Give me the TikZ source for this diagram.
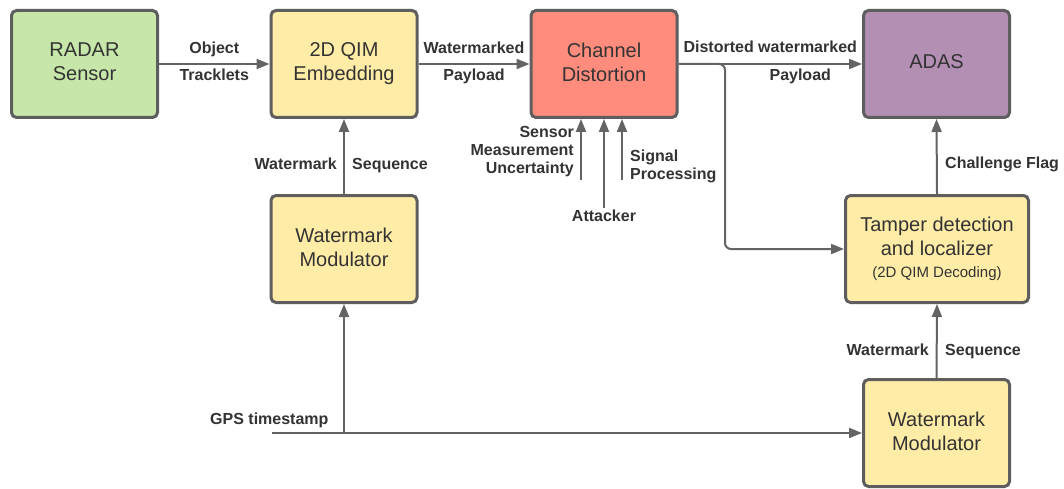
\documentclass[tikz,border=0pt]{standalone}
\usepackage{fontspec}
\setmainfont{Liberation Sans}
\usetikzlibrary{arrows.meta,calc}
\definecolor{boxline}{RGB}{94,94,94}
\definecolor{wire}{RGB}{100,100,100}
\definecolor{ink}{RGB}{51,51,51}
\definecolor{radarfill}{RGB}{199,231,170}
\definecolor{qimfill}{RGB}{255,236,166}
\definecolor{chanfill}{RGB}{255,140,125}
\definecolor{adasfill}{RGB}{178,143,179}

\begin{document}
\begin{tikzpicture}[x=1pt,y=-1pt,
  block/.style={draw=boxline, line width=3pt, rounded corners=5pt,
    minimum width=146pt, minimum height=107pt, align=center, text=ink,
    font=\fontsize{20}{24}\selectfont, inner sep=0pt,
    execute at end node={\vphantom{g}}},
  wirearrow/.style={draw=wire, line width=2pt, -{Triangle[length=13pt,width=10pt]}},
  wireline/.style={draw=wire, line width=2pt},
  lbl/.style={text=ink, font=\fontsize{16}{18}\selectfont\bfseries, inner sep=0pt},
]
\useasboundingbox[fill=white] (0,0) rectangle (1064,489);

% processing blocks
\node[block, fill=radarfill] (radar) at (84.5,64) {RADAR\\Sensor};
\node[block, fill=qimfill] (qim) at (344,64) {2D QIM\\Embedding};
\node[block, fill=chanfill] (chan) at (604,64) {Channel\\Distortion};
\node[block, fill=adasfill] (adas) at (936.5,64) {ADAS};
\node[block, fill=qimfill] (modL) at (344,249) {Watermark\\Modulator};
\node[block, fill=qimfill, minimum width=183pt] (tamper) at (937,249)
  {Tamper detection\\and localizer\\[-2pt]{\fontsize{15}{18}\selectfont (2D QIM Decoding)}};
\node[block, fill=qimfill] (modR) at (936.5,433) {Watermark\\Modulator};

% main data path
\draw[wirearrow] (radar.east) -- (qim.west)
  node[lbl, midway, anchor=base, yshift=10pt] (lobj) {Object}
  node[lbl, midway, anchor=base, yshift=-17pt] (ltrk) {Tracklets};
\draw[wirearrow] (qim.east) -- (chan.west)
  node[lbl, midway, anchor=base, yshift=10pt] (lwm) {Watermarked}
  node[lbl, midway, anchor=base, yshift=-17pt] (lpay) {Payload};
\draw[wirearrow] (chan.east) -- (adas.west)
  node[lbl, midway, anchor=base, yshift=11pt] (ldist) {Distorted watermarked}
  node[lbl, midway, anchor=base, yshift=-17pt, xshift=30pt] (lpay2) {Payload};

% tap to the tamper detector
\coordinate (bend) at (725,249);
\draw[wirearrow, rounded corners=6pt] (chan.east) -| (bend) -- (tamper.west);

% disturbances entering the channel
\coordinate (sIn) at (581,180);
\coordinate (aIn) at (604,208);
\coordinate (pIn) at (622,180);
\draw[wirearrow] (sIn) -- (sIn |- chan.south);
\draw[wirearrow] (aIn) -- (aIn |- chan.south);
\draw[wirearrow] (pIn) -- (pIn |- chan.south);
\node[lbl, align=right, anchor=east] (lsens) at (574,151.5) {Sensor\\Measurement\\Uncertainty};
\node[lbl, align=left, anchor=west] (lsig) at (630,166) {Signal\\Processing};
\node[lbl, anchor=base] (latk) at (604,221) {Attacker};

% watermark generation
\draw[wirearrow] (modL.north) -- (qim.south);
\node[lbl, anchor=base east] (lwl) at (337,169) {Watermark};
\node[lbl, anchor=base west] (lsl) at (352,169) {Sequence};

\coordinate (gps) at (272,433);
\draw[wirearrow] (gps) -- (modR.west);
\draw[wirearrow] (modL.south |- gps) -- (modL.south);
\node[lbl, anchor=base west] (lgps) at (210,424) {GPS timestamp};

\draw[wirearrow] (modR.north) -- (tamper.south);
\node[lbl, anchor=base east] (lwr) at (929,355) {Watermark};
\node[lbl, anchor=base west] (lsr) at (945,355) {Sequence};

\draw[wirearrow] (tamper.north) -- (adas.south);
\node[lbl, anchor=base west] (lflag) at (945,168) {Challenge Flag};
\end{tikzpicture}
\end{document}
